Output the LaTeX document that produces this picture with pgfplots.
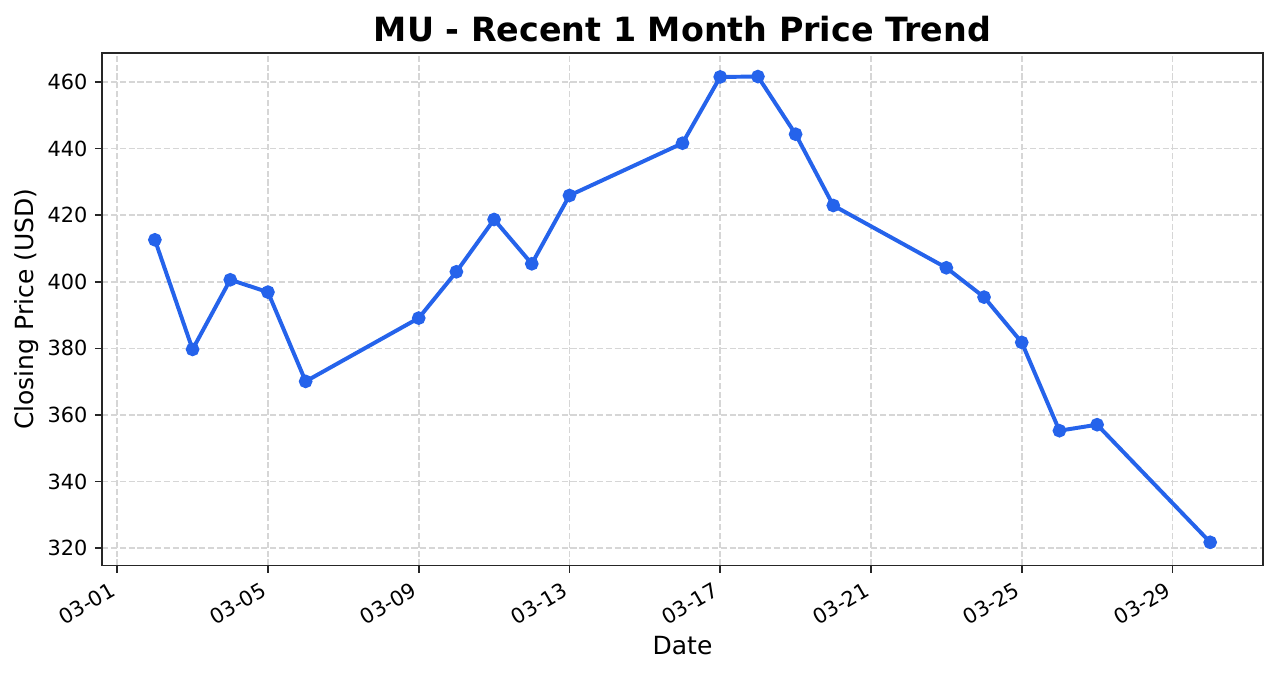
\documentclass[border=0pt]{standalone}
\usepackage{pgfplots}
\pgfplotsset{compat=1.18}
\usepackage{fontspec}
\setmainfont{DejaVu Sans}
\definecolor{lineblue}{HTML}{2563EB}
\definecolor{spine}{HTML}{262626}
\begin{document}
\begin{tikzpicture}
\begin{axis}[
scale only axis,
width=557pt, height=246pt,
xmin=0.6, xmax=31.4,
ymin=314.8, ymax=468.7,
xtick={1,5,9,13,17,21,25,29},
xticklabels={03-01,03-05,03-09,03-13,03-17,03-21,03-25,03-29},
ytick={320,340,...,460},
tick align=outside,
xtick pos=bottom, ytick pos=left,
major tick length=3.5pt,
tick style={spine, line width=0.8pt},
axis line style={spine, line width=0.8pt},
/pgf/number format/assume math mode=true,
ticklabel style={font=\fontsize{10}{12}\selectfont},
xticklabel style={xshift=-3.8pt, yshift=-3.8pt, rotate=30, anchor=north east, inner sep=0pt},
grid=major,
major grid style={draw=black!16, line width=0.8pt, dash pattern=on 2.96pt off 1.28pt},
xlabel={Date}, ylabel={Closing Price (USD)},
label style={font=\fontsize{12}{14}\selectfont},
xlabel style={at={(axis description cs:0.5,0)}, anchor=center, yshift=-38.4pt},
ylabel style={at={(axis description cs:0,0.5)}, anchor=center, yshift=36pt},
title={MU - Recent 1 Month Price Trend},
title style={font=\bfseries\fontsize{16}{19}\selectfont, at={(axis description cs:0.5,1)}, anchor=base, yshift=-0.5pt},
]
\addplot[lineblue, line width=1.9pt, mark=*, mark size=2.3pt, mark options={solid, fill=lineblue, draw=lineblue}] coordinates {
(2,412.6) (3,379.7) (4,400.6) (5,396.9) (6,370.1)
(9,389.1) (10,403.0) (11,418.7) (12,405.4) (13,425.9)
(16,441.6) (17,461.5) (18,461.6) (19,444.3) (20,422.9)
(23,404.2) (24,395.4) (25,381.8) (26,355.3) (27,357.1)
(30,321.8)
};
\coordinate (ll) at (rel axis cs:0,0);
\coordinate (ur) at (rel axis cs:1,1);
\end{axis}
\pgfresetboundingbox
\path ([shift={(-49pt,-51.8pt)}]ll) rectangle ([shift={(7.7pt,25.4pt)}]ur);
\end{tikzpicture}
\end{document}
